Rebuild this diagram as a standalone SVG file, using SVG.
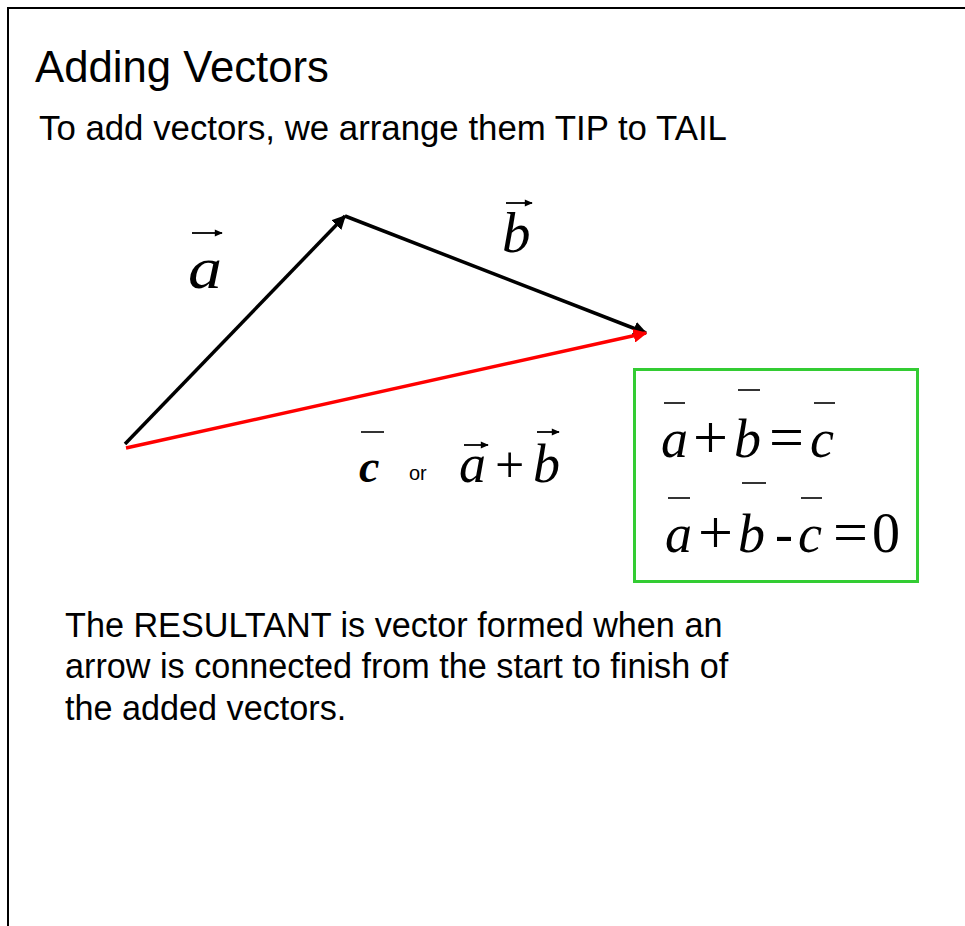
<svg xmlns="http://www.w3.org/2000/svg" width="965" height="926" viewBox="0 0 965 926">
<style>
.sans{font-family:"Liberation Sans",Arial,sans-serif;fill:#000}
.m{font-family:"Liberation Serif","Times New Roman",serif;font-style:italic;fill:#000}
.r{font-family:"Liberation Serif","Times New Roman",serif;fill:#000}
.bar{stroke:#000;stroke-width:1.6}
.va{stroke:#000;stroke-width:1.8}
</style>
<defs>
<marker id="ah" viewBox="0 0 10 10" refX="9" refY="5" markerWidth="4" markerHeight="4" orient="auto"><path d="M0,0 L10,5 L0,10 z" fill="#000"/></marker>
<marker id="ahr" viewBox="0 0 10 10" refX="9" refY="5" markerWidth="4" markerHeight="4" orient="auto"><path d="M0,0 L10,5 L0,10 z" fill="#f00"/></marker>
<marker id="sa" viewBox="0 0 10 10" refX="9" refY="5" markerWidth="9" markerHeight="8" markerUnits="userSpaceOnUse" orient="auto"><path d="M0,0.5 L10,5 L0,9.5 z" fill="#000"/></marker>
</defs>
<rect width="965" height="926" fill="#fff"/>
<path d="M8,926 V8 H965" fill="none" stroke="#000" stroke-width="2"/>
<text class="sans" x="35" y="82" font-size="43.7">Adding Vectors</text>
<text class="sans" x="39" y="140" font-size="34.8">To add vectors, we arrange them TIP to TAIL</text>
<g id="connectors" fill="none" stroke-width="3.5">
<line x1="125" y1="444" x2="345" y2="216" stroke="#000" marker-end="url(#ah)"/>
<line x1="345" y1="216" x2="646" y2="333" stroke="#000" marker-end="url(#ah)"/>
<line x1="126" y1="448" x2="646" y2="333" stroke="#f00" marker-end="url(#ahr)"/>
</g>
<g id="label-a">
<line class="va" x1="192" y1="233" x2="222" y2="233" marker-end="url(#sa)"/>
<text class="m" x="188" y="288" font-size="60" textLength="34" lengthAdjust="spacingAndGlyphs">a</text>
</g>
<g id="label-b">
<line class="va" x1="506" y1="203" x2="532" y2="203" marker-end="url(#sa)"/>
<text class="m" x="502" y="252" font-size="57">b</text>
</g>
<g id="label-c">
<line class="bar" x1="361" y1="432" x2="384" y2="432"/>
<text class="m" x="359" y="482" font-size="46" font-weight="bold">c</text>
<text class="sans" x="409" y="480" font-size="20">or</text>
<line class="va" x1="464" y1="445" x2="488" y2="445" marker-end="url(#sa)"/>
<text class="m" x="459" y="482" font-size="54">a</text>
<text class="r" x="495" y="482" font-size="52">+</text>
<line class="va" x1="537" y1="432" x2="559" y2="432" marker-end="url(#sa)"/>
<text class="m" x="533" y="482" font-size="54">b</text>
</g>
<g id="equations">
<rect x="634.5" y="369.5" width="283" height="212" fill="none" stroke="#33cc33" stroke-width="3"/>
<line class="bar" x1="664" y1="403" x2="685" y2="403"/>
<line class="bar" x1="738" y1="390" x2="760" y2="390"/>
<line class="bar" x1="814" y1="403" x2="835" y2="403"/>
<text class="m" x="661" y="457" font-size="54">a</text>
<text class="r" x="693" y="458" font-size="62">+</text>
<text class="m" x="734" y="457" font-size="54">b</text>
<text class="r" x="769" y="458" font-size="62">=</text>
<text class="m" x="810" y="457" font-size="54">c</text>
<line class="bar" x1="668" y1="498" x2="690" y2="498"/>
<line class="bar" x1="742" y1="483" x2="766" y2="483"/>
<line class="bar" x1="801" y1="498" x2="822" y2="498"/>
<text class="m" x="665" y="552" font-size="54">a</text>
<text class="r" x="698" y="553" font-size="62">+</text>
<text class="m" x="738" y="552" font-size="54">b</text>
<text class="r" x="775" y="552" font-size="54">-</text>
<text class="m" x="798" y="552" font-size="54">c</text>
<text class="r" x="833" y="553" font-size="62">=</text>
<text class="r" x="872" y="552" font-size="56">0</text>
</g>
<g id="resultant-text">
<text class="sans" x="65" y="637" font-size="34.2">The RESULTANT is vector formed when an</text>
<text class="sans" x="65" y="678" font-size="34.2">arrow is connected from the start to finish of</text>
<text class="sans" x="65" y="720" font-size="34.2">the added vectors.</text>
</g>
</svg>
